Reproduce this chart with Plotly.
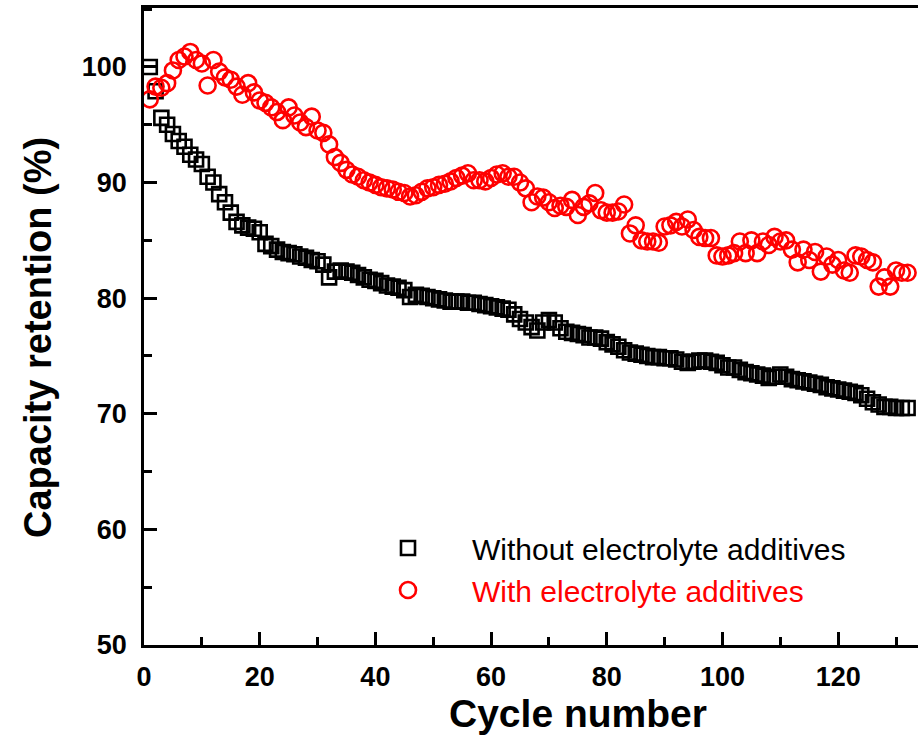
import plotly.graph_objects as go

cycles = list(range(1, 133))

without_additives = [
    100.0, 97.9, 95.6, 95.0, 94.2, 93.6, 93.1, 92.4, 92.0, 91.6,
    90.5, 90.0, 89.0, 88.3, 87.4, 86.6, 86.3, 86.1, 86.0, 85.7,
    84.7, 84.5, 84.2, 84.0, 83.9, 83.8, 83.6, 83.5, 83.3, 83.2,
    82.9, 81.8, 82.3, 82.4, 82.3, 82.2, 82.0, 81.8, 81.6, 81.5,
    81.3, 81.1, 81.0, 80.9, 80.7, 80.1, 80.3, 80.2, 80.1, 80.0,
    79.9, 79.8, 79.7, 79.7, 79.7, 79.6, 79.6, 79.5, 79.4, 79.3,
    79.2, 79.1, 79.0, 78.6, 78.2, 77.9, 77.5, 77.2, 77.9, 78.1,
    77.9, 77.4, 77.1, 77.0, 76.9, 76.8, 76.6, 76.6, 76.5, 76.2,
    76.0, 75.8, 75.5, 75.3, 75.2, 75.1, 75.0, 74.9, 74.9, 74.8,
    74.8, 74.7, 74.5, 74.4, 74.5, 74.6, 74.6, 74.5, 74.4, 74.2,
    74.0, 74.0, 73.8, 73.6, 73.5, 73.4, 73.3, 73.1, 73.2, 73.4,
    73.2, 73.0, 72.9, 72.8, 72.7, 72.6, 72.5, 72.3, 72.2, 72.1,
    72.0, 71.9, 71.8, 71.6, 71.3, 71.0, 70.8, 70.6, 70.6, 70.5,
    70.5, 70.5,
]

with_additives = [
    97.2, 98.3, 98.2, 98.6, 99.7, 100.6, 100.9, 101.3, 100.6, 100.3,
    98.4, 100.6, 99.6, 99.1, 98.9, 98.3, 97.6, 98.6, 97.8, 97.1,
    96.9, 96.5, 96.1, 95.4, 96.5, 95.8, 95.2, 94.8, 95.7, 94.5,
    94.3, 93.3, 92.2, 91.7, 91.1, 90.7, 90.5, 90.2, 90.0, 89.8,
    89.6, 89.5, 89.4, 89.2, 89.1, 88.8, 88.9, 89.2, 89.5, 89.6,
    89.8, 89.9, 90.1, 90.4, 90.6, 90.8, 90.2, 90.2, 90.1, 90.4,
    90.7, 90.8, 90.5, 90.5, 90.0, 89.5, 88.3, 88.8, 88.7, 88.3,
    87.8, 88.0, 87.9, 88.5, 87.2, 87.9, 88.2, 89.1, 87.6, 87.4,
    87.4, 87.5, 88.1, 85.6, 86.3, 85.0, 84.9, 84.9, 84.8, 86.2,
    86.3, 86.6, 86.2, 86.8, 85.9, 85.3, 85.2, 85.2, 83.7, 83.6,
    83.7, 83.9, 84.9, 83.9, 85.0, 83.9, 84.9, 84.6, 85.3, 84.9,
    85.0, 84.2, 83.1, 84.2, 83.3, 84.0, 82.3, 83.6, 82.9, 83.3,
    82.4, 82.2, 83.7, 83.6, 83.3, 83.1, 81.0, 81.8, 81.0, 82.4,
    82.2, 82.2,
]

x_ticks = [0, 20, 40, 60, 80, 100, 120]
y_ticks = [50, 60, 70, 80, 90, 100]

W, H = 918, 737
L, R, T, B = 144, 0, 8, 92

fig = go.Figure()
fig.add_trace(go.Scatter(
    x=cycles, y=without_additives, mode="markers",
    name="Without electrolyte additives", legendgroup="a",
    marker=dict(symbol="square-open", size=14, color="black", line=dict(width=2.6, color="black")),
))
fig.add_trace(go.Scatter(
    x=cycles, y=with_additives, mode="markers",
    name="<span style='color:#ff0000'>With electrolyte additives</span>", legendgroup="b",
    marker=dict(symbol="circle-open", size=16, color="#ff0000", line=dict(width=2.6, color="#ff0000")),
))

tickfont = dict(family="Liberation Sans, Arial, sans-serif", size=27, color="black", weight="bold")

fig.update_xaxes(
    range=[0, 133.8], tickvals=x_ticks, ticktext=[str(v) for v in x_ticks],
    ticks="inside", ticklen=13, tickwidth=2.5, tickcolor="black",
    minor=dict(dtick=10, ticks="inside", ticklen=8, tickwidth=2.5, tickcolor="black"),
    showline=True, linewidth=2.5, linecolor="black", mirror=True,
    showgrid=False, zeroline=False, tickfont=tickfont, ticklabelstandoff=6,
)
fig.update_yaxes(
    range=[50, 105.1], tickvals=y_ticks, ticktext=[str(v) for v in y_ticks],
    ticks="inside", ticklen=13, tickwidth=2.5, tickcolor="black",
    minor=dict(dtick=5, ticks="inside", ticklen=8, tickwidth=2.5, tickcolor="black"),
    showline=True, linewidth=2.5, linecolor="black", mirror=False,
    showgrid=False, zeroline=False, tickfont=tickfont, ticklabelstandoff=9,
)

pw = W - L - R
ph = H - T - B
fig.add_annotation(text="Cycle number", xref="paper", yref="paper",
                   x=(578 - L) / pw, y=(H - B - 713) / ph, showarrow=False,
                   font=dict(family="Liberation Sans, Arial, sans-serif", size=39, color="black", weight="bold"),
                   xanchor="center", yanchor="middle")
fig.add_annotation(text="Capacity retention (%)", xref="paper", yref="paper",
                   x=(38 - L) / pw, y=(H - B - 338) / ph, showarrow=False,
                   font=dict(family="Liberation Sans, Arial, sans-serif", size=38, color="black", weight="bold"),
                   textangle=-90, xanchor="center", yanchor="middle")

fig.update_layout(
    width=W, height=H,
    margin=dict(l=L, r=R, t=T, b=B, pad=0),
    paper_bgcolor="white", plot_bgcolor="white",
    showlegend=True,
    legend=dict(
        x=(344 - L) / pw, y=(H - B - 522) / ph, xanchor="left", yanchor="top",
        bgcolor="rgba(0,0,0,0)", borderwidth=0,
        font=dict(family="Liberation Sans, Arial, sans-serif", size=30, color="black"),
        itemwidth=118, tracegroupgap=0, itemsizing="trace",
    ),
)

fig.write_html("out.html")
